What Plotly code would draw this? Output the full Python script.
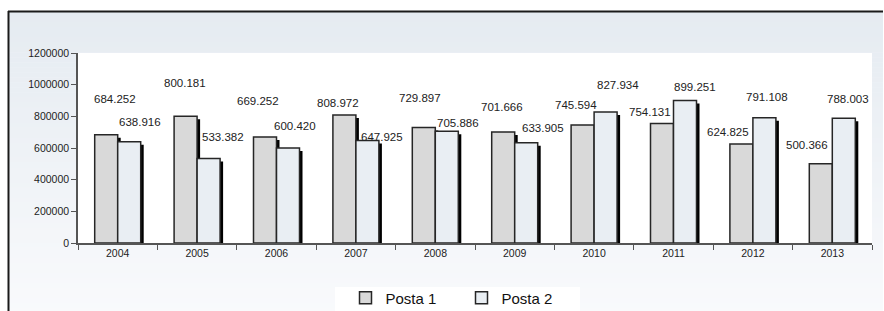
import plotly.graph_objects as go

# ---- data ----
years = ["2004", "2005", "2006", "2007", "2008", "2009", "2010", "2011", "2012", "2013"]
posta1 = [684252, 800181, 669252, 808972, 729897, 701666, 745594, 754131, 624825, 500366]
posta2 = [638916, 533382, 600420, 647925, 705886, 633905, 827934, 899251, 791108, 788003]
series_names = ["Posta 1", "Posta 2"]
y_ticks = [0, 200000, 400000, 600000, 800000, 1000000, 1200000]

# label placement tweaks (pixels, relative to bar top centre)
p1_dx = [9, -0.5, -7, -6, -3.5, -1, -7, -12, -13.5, -13.5]
p1_dy = [36, 33, 36, 12, 29, 25, 20, 12, 12, 19]
p2_dx = [11, 14, 7, 15, 11, 17, 12, 10, 3, 4]
p2_dy = [20, 22, 22, 3, 8, 15, 27, 14, 21, 19]

# ---- geometry ----
W, H = 884, 311
L, R, T, B = 78, 12, 53, 68
plot_w = W - L - R
plot_h = H - T - B
YMAX = 1200000
cat_px = plot_w / len(years)
bar_w = 23 / cat_px
shadow_dx = 3 / cat_px
shadow_dy = 3 * YMAX / plot_h


def fmt(v):
    return f"{v:,}".replace(",", ".")


def px_to_paper_x(px):
    return (px - L) / plot_w


def px_to_paper_y(py):
    return (H - B - py) / plot_h


fill1 = "#d9d9d9"
fill2 = "#e9eef3"
edge = "#262626"

fig = go.Figure()

# shadow + bar, series 1
fig.add_trace(go.Bar(x=years, y=[max(v - shadow_dy, 0) for v in posta1], offset=-bar_w + shadow_dx,
                     width=bar_w, marker=dict(color="#000000", line=dict(width=0)),
                     showlegend=False, hoverinfo="skip"))
fig.add_trace(go.Bar(x=years, y=posta1, name=series_names[0], offset=-bar_w, width=bar_w,
                     marker=dict(color=fill1, line=dict(color=edge, width=1.5))))
# shadow + bar, series 2
fig.add_trace(go.Bar(x=years, y=[max(v - shadow_dy, 0) for v in posta2], offset=shadow_dx,
                     width=bar_w, marker=dict(color="#000000", line=dict(width=0)),
                     showlegend=False, hoverinfo="skip"))
fig.add_trace(go.Bar(x=years, y=posta2, name=series_names[1], offset=0, width=bar_w,
                     marker=dict(color=fill2, line=dict(color=edge, width=1.5))))

label_font = dict(family="Liberation Sans Narrow, Arial Narrow, Liberation Sans, Arial", size=11.5, color="#222222")
annotations = []
half = cat_px * bar_w / 2
for i, yr in enumerate(years):
    annotations.append(dict(x=i, y=posta1[i], xref="x", yref="y", text=fmt(posta1[i]), showarrow=False,
                            xanchor="center", yanchor="middle", xshift=-half + p1_dx[i], yshift=p1_dy[i],
                            font=label_font))
    annotations.append(dict(x=i, y=posta2[i], xref="x", yref="y", text=fmt(posta2[i]), showarrow=False,
                            xanchor="center", yanchor="middle", xshift=half + p2_dx[i], yshift=p2_dy[i],
                            font=label_font))

# background gradient bands (outer frame)
shapes = []
top_px, bot_px = 12, H + 2
left_px, right_px = 9, 883
n = 60
c_top = (229, 235, 241)
c_bot = (249, 250, 252)
for k in range(n):
    y0 = top_px + (bot_px - top_px) * k / n
    y1 = top_px + (bot_px - top_px) * (k + 1) / n + 0.6
    t = (k + 0.5) / n
    c = tuple(round(c_top[j] + (c_bot[j] - c_top[j]) * t) for j in range(3))
    shapes.append(dict(type="rect", xref="paper", yref="paper", layer="below",
                       x0=px_to_paper_x(left_px), x1=px_to_paper_x(right_px),
                       y0=px_to_paper_y(y1), y1=px_to_paper_y(y0),
                       line=dict(width=0), fillcolor="rgb(%d,%d,%d)" % c))
# white plot area
shapes.append(dict(type="rect", xref="paper", yref="paper", layer="below", x0=0, x1=1, y0=0, y1=1,
                   line=dict(width=0), fillcolor="white"))
# legend box
shapes.append(dict(type="rect", xref="paper", yref="paper", layer="below",
                   x0=px_to_paper_x(335), x1=px_to_paper_x(580),
                   y0=px_to_paper_y(H + 5), y1=px_to_paper_y(287),
                   line=dict(width=0), fillcolor="white"))
# frame border (left + top)
shapes.append(dict(type="line", xref="paper", yref="paper", layer="above",
                   x0=px_to_paper_x(8.5), x1=px_to_paper_x(8.5),
                   y0=px_to_paper_y(H + 5), y1=px_to_paper_y(11),
                   line=dict(color="#1a1a1a", width=2)))
shapes.append(dict(type="line", xref="paper", yref="paper", layer="above",
                   x0=px_to_paper_x(8), x1=px_to_paper_x(883),
                   y0=px_to_paper_y(11.5), y1=px_to_paper_y(11.5),
                   line=dict(color="#1a1a1a", width=2)))

tick_font = dict(family="Liberation Sans, Arial", size=10.5, color="#222222")

fig.update_layout(
    width=W, height=H,
    margin=dict(l=L, r=R, t=T, b=B, pad=0, autoexpand=False),
    paper_bgcolor="white",
    plot_bgcolor="rgba(0,0,0,0)",
    barmode="overlay",
    shapes=shapes,
    annotations=annotations,
    showlegend=True,
    legend=dict(orientation="h", x=px_to_paper_x(345.5), xanchor="left",
                y=px_to_paper_y(298), yanchor="middle",
                bgcolor="rgba(0,0,0,0)", borderwidth=0,
                font=dict(family="Liberation Sans, Arial", size=15, color="#111111"),
                entrywidth=71, entrywidthmode="pixels", itemclick=False),
    xaxis=dict(type="category", categoryorder="array", categoryarray=years,
               range=[-0.5, len(years) - 0.5],
               showgrid=False, showline=True, linecolor="#555555", linewidth=1.5,
               ticks="outside", tickson="boundaries", ticklen=5, tickcolor="#555555", tickwidth=1,
               tickfont=tick_font, zeroline=False),
    yaxis=dict(range=[0, YMAX], tickvals=y_ticks, ticktext=[str(v) for v in y_ticks],
               showgrid=False, showline=True, linecolor="#555555", linewidth=1.5,
               ticks="outside", ticklen=5, tickcolor="#555555", tickwidth=1,
               tickfont=tick_font, zeroline=False),
    hovermode=False,
)

fig.write_html("out.html", config={"displayModeBar": False},
               post_script="document.body.style.margin='0';document.body.style.overflow='hidden';")
